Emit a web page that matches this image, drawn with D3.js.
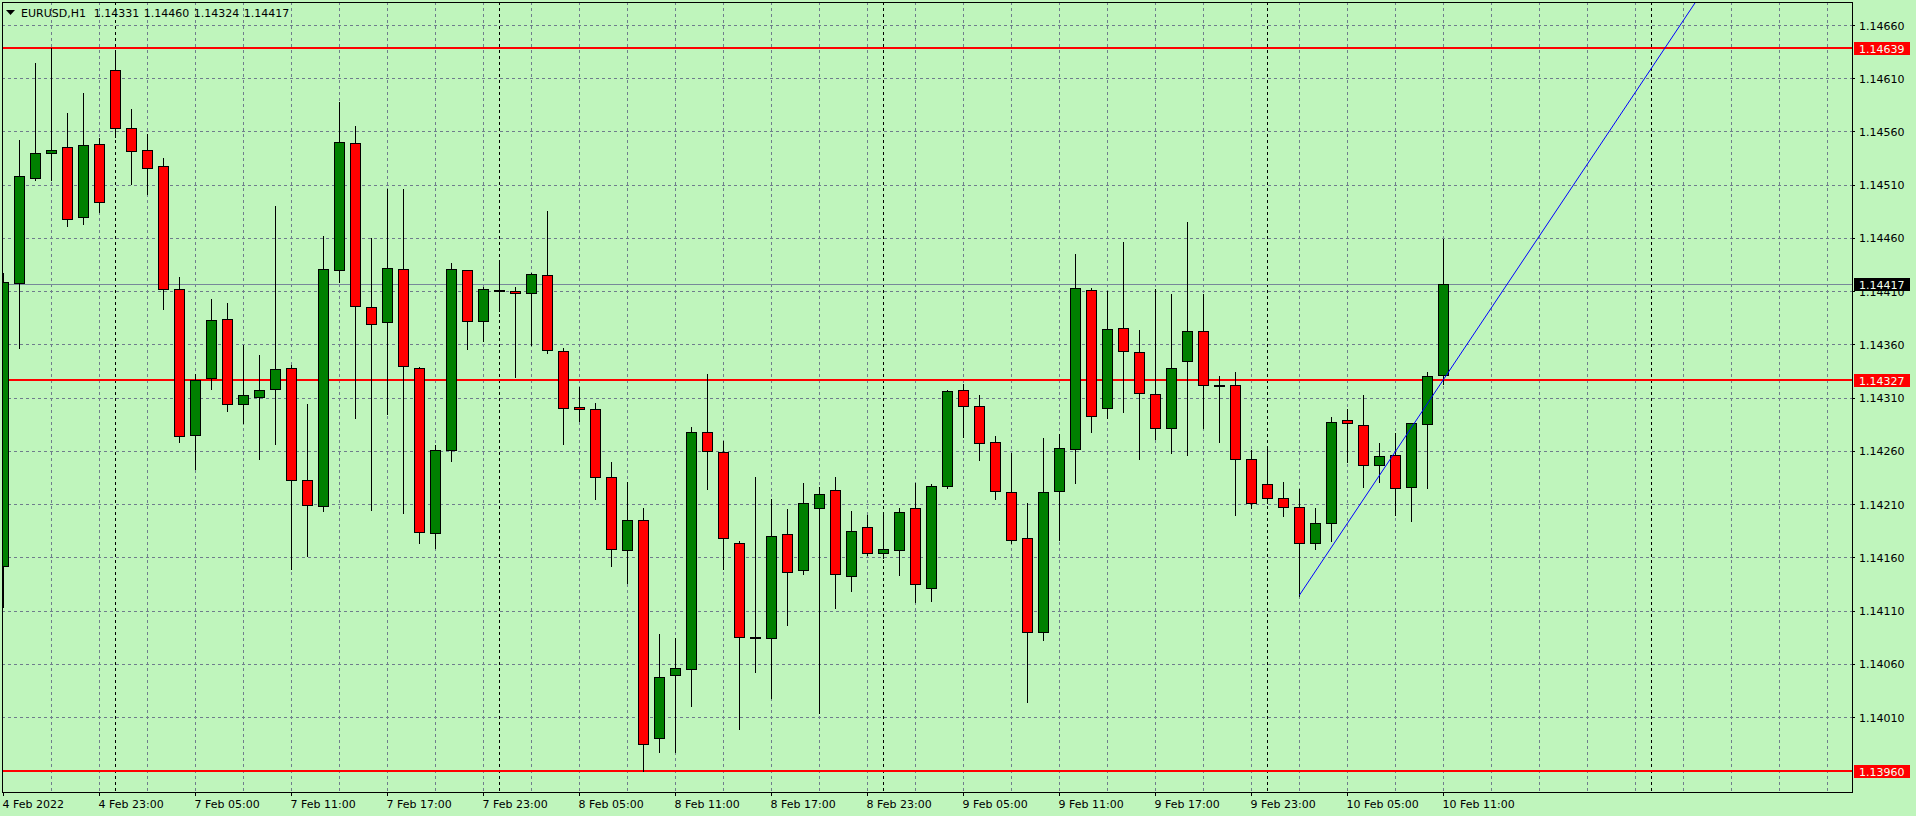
<!DOCTYPE html>
<html><head><meta charset="utf-8">
<script src="https://cdn.jsdelivr.net/npm/d3@7"></script>
<style>html,body{margin:0;padding:0;background:#bff5bc;overflow:hidden;} svg{display:block;}</style>
</head><body>
<svg id="c" width="1916" height="816"></svg>
<script>
const symbol = "EURUSD,H1";
const opens = [1.14152,1.14418,1.14516,1.14540,1.14545,1.14480,1.14548,1.14618,1.14563,1.14543,
1.14528,1.14412,1.14275,1.14328,1.14384,1.14304,1.14311,1.14318,1.14338,1.14233,
1.14208,1.14430,1.14549,1.14395,1.14381,1.14431,1.14338,1.14183,1.14261,1.14430,
1.14382,1.14411,1.14410,1.14408,1.14425,1.14354,1.14301,1.14299,1.14235,1.14167,
1.14195,1.13990,1.14049,1.14055,1.14278,1.14259,1.14173,1.14085,1.14084,1.14182,
1.14148,1.14206,1.14223,1.14142,1.14188,1.14164,1.14167,1.14206,1.14131,1.14227,
1.14317,1.14302,1.14268,1.14221,1.14178,1.14090,1.14222,1.14262,1.14411,1.14300,
1.14375,1.14353,1.14313,1.14281,1.14344,1.14373,1.14322,1.14322,1.14252,1.14229,
1.14216,1.14207,1.14173,1.14192,1.14289,1.14284,1.14247,1.14256,1.14226,1.14285,1.14331];
const highs = [1.14428,1.14553,1.14625,1.14639,1.14578,1.14597,1.14555,1.14636,1.14582,1.14559,
1.14536,1.14424,1.14333,1.14404,1.14400,1.14360,1.14351,1.14491,1.14342,1.14305,
1.14463,1.14589,1.14566,1.14461,1.14507,1.14507,1.14340,1.14266,1.14437,1.14431,
1.14415,1.14440,1.14415,1.14428,1.14486,1.14358,1.14321,1.14306,1.14250,1.14232,
1.14207,1.14089,1.14085,1.14283,1.14333,1.14270,1.14176,1.14236,1.14216,1.14206,
1.14231,1.14227,1.14236,1.14204,1.14201,1.14203,1.14207,1.14231,1.14230,1.14318,
1.14324,1.14313,1.14275,1.14259,1.14212,1.14273,1.14277,1.14446,1.14414,1.14411,
1.14457,1.14374,1.14413,1.14408,1.14476,1.14408,1.14331,1.14335,1.14262,1.14265,
1.14232,1.14225,1.14207,1.14293,1.14300,1.14313,1.14268,1.14278,1.14287,1.14335,1.14460];
const lows = [1.14114,1.14358,1.14515,1.14515,1.14472,1.14474,1.14485,1.14556,1.14512,1.14502,
1.14394,1.14269,1.14244,1.14319,1.14298,1.14287,1.14253,1.14267,1.14150,1.14162,
1.14204,1.14420,1.14292,1.14205,1.14296,1.14203,1.14174,1.14170,1.14251,1.14357,
1.14364,1.14392,1.14330,1.14360,1.14353,1.14267,1.14289,1.14216,1.14153,1.14137,
1.13960,1.13978,1.13978,1.14021,1.14225,1.14150,1.14000,1.14053,1.14029,1.14097,
1.14145,1.14015,1.14113,1.14129,1.14163,1.14160,1.14144,1.14119,1.14120,1.14226,
1.14274,1.14252,1.14216,1.14174,1.14025,1.14083,1.14177,1.14231,1.14279,1.14292,
1.14297,1.14253,1.14272,1.14259,1.14257,1.14282,1.14269,1.14201,1.14207,1.14212,
1.14200,1.14125,1.14169,1.14176,1.14250,1.14227,1.14232,1.14201,1.14195,1.14226,1.14324];
const closes = [1.14419,1.14518,1.14540,1.14543,1.14478,1.14547,1.14494,1.14563,1.14542,1.14526,
1.14412,1.14274,1.14327,1.14383,1.14304,1.14312,1.14317,1.14337,1.14233,1.14209,
1.14431,1.14550,1.14396,1.14379,1.14432,1.14340,1.14184,1.14261,1.14431,1.14382,
1.14412,1.14411,1.14408,1.14426,1.14355,1.14300,1.14299,1.14235,1.14168,1.14195,
1.13985,1.14048,1.14056,1.14278,1.14260,1.14178,1.14085,1.14085,1.14180,1.14146,
1.14211,1.14219,1.14144,1.14185,1.14164,1.14168,1.14203,1.14135,1.14227,1.14316,
1.14302,1.14267,1.14222,1.14176,1.14090,1.14221,1.14263,1.14413,1.14293,1.14374,
1.14354,1.14314,1.14281,1.14338,1.14373,1.14322,1.14322,1.14252,1.14211,1.14216,
1.14207,1.14173,1.14192,1.14287,1.14286,1.14247,1.14255,1.14225,1.14286,1.14330,1.14417];
const xLabelBars = [0,6,12,18,24,30,36,42,48,54,60,66,72,78,84,90];
const xLabels = ["4 Feb 2022","4 Feb 23:00","7 Feb 05:00","7 Feb 11:00","7 Feb 17:00","7 Feb 23:00",
"8 Feb 05:00","8 Feb 11:00","8 Feb 17:00","8 Feb 23:00","9 Feb 05:00","9 Feb 11:00","9 Feb 17:00",
"9 Feb 23:00","10 Feb 05:00","10 Feb 11:00"];
const yTicks = [1.14660,1.14610,1.14560,1.14510,1.14460,1.14410,1.14360,1.14310,1.14260,1.14210,1.14160,1.14110,1.14060,1.14010];
const hLines = [1.14639,1.14327,1.13960];
const currentPrice = 1.14417;
const separatorBars = [7,31,55,79,103];
const trendBars = [81,91];
const trendPrices = [1.14125,1.14350];

const svg = d3.select("#c");
const L = 2, T = 2, R = 1852, B = 792;
const X = d3.scaleLinear().domain([0,1]).range([3.5,19.5]);
const Y = d3.scaleLinear().domain([1.14010,1.14660]).range([717.5,25.5]);
const py = v => Math.floor(Y(v)) + 0.5;
const font = "'DejaVu Sans', Tahoma, sans-serif";
const gridColor = "#6f7d8c";

svg.append("rect").attr("width",1916).attr("height",816).attr("fill","#bff5bc");
svg.append("defs").append("clipPath").attr("id","plot")
  .append("rect").attr("x",L+1).attr("y",T+1).attr("width",R-L-1).attr("height",B-T-1);
const plot = svg.append("g").attr("clip-path","url(#plot)").attr("shape-rendering","crispEdges");

// horizontal grid
plot.selectAll("line.hg").data(yTicks).join("line")
  .attr("x1",L).attr("x2",R).attr("y1",py).attr("y2",py)
  .attr("stroke",gridColor).attr("stroke-dasharray","3,3");
// vertical grid
const maxBar = Math.floor(X.invert(R));
plot.selectAll("line.vg").data(d3.range(3, maxBar+1, 3)).join("line")
  .attr("x1",d=>X(d)).attr("x2",d=>X(d)).attr("y1",T).attr("y2",B)
  .attr("stroke",gridColor).attr("stroke-dasharray","3,3");
// period separators
plot.selectAll("line.sep").data(separatorBars).join("line")
  .attr("x1",d=>X(d)).attr("x2",d=>X(d)).attr("y1",T).attr("y2",B)
  .attr("stroke","#000").attr("stroke-dasharray","3,3");
// current price line
plot.append("line").attr("x1",L).attr("x2",R).attr("y1",py(currentPrice)).attr("y2",py(currentPrice))
  .attr("stroke","#778899");
// red horizontal lines
plot.selectAll("line.hl").data(hLines).join("line")
  .attr("x1",L).attr("x2",R).attr("y1",d=>Math.round(Y(d))).attr("y2",d=>Math.round(Y(d)))
  .attr("stroke","#ff0000").attr("stroke-width",2);

// candles
const bars = opens.map((o,i)=>({i,o,h:highs[i],l:lows[i],c:closes[i]}));
const g = plot.append("g");
g.selectAll("line.wick").data(bars).join("line")
  .attr("x1",d=>X(d.i)).attr("x2",d=>X(d.i)).attr("y1",d=>py(d.h)).attr("y2",d=>py(d.l)+1)
  .attr("stroke","#000");
g.selectAll("rect.body").data(bars).join("rect")
  .attr("x",d=>X(d.i)-5).attr("width",10)
  .attr("y",d=>py(Math.max(d.o,d.c)))
  .attr("height",d=>Math.max(1, py(Math.min(d.o,d.c)) - py(Math.max(d.o,d.c))))
  .attr("fill",d=>d.c>d.o?"#008000":(d.c<d.o?"#ff0000":"#000"))
  .attr("stroke","#000");

// trend line (ray)
const trend = d3.scaleLinear().domain(trendBars).range(trendPrices);
const tEnd = trendBars[0] + 40;
svg.append("g").attr("clip-path","url(#plot)").append("line")
  .attr("x1",X(trendBars[0])).attr("y1",Y(trend(trendBars[0])))
  .attr("x2",X(tEnd)).attr("y2",Y(trend(tEnd)))
  .attr("stroke","#0000ff").attr("stroke-width",1);

// frame
svg.append("rect").attr("x",L+0.5).attr("y",T+0.5).attr("width",R-L).attr("height",B-T)
  .attr("fill","none").attr("stroke","#000").attr("shape-rendering","crispEdges");

// right axis
const ax = svg.append("g").attr("font-family",font).attr("font-size","11px");
ax.selectAll("line.t").data(yTicks).join("line")
  .attr("x1",R).attr("x2",R+3).attr("y1",py).attr("y2",py).attr("stroke","#000")
  .attr("shape-rendering","crispEdges");
ax.selectAll("text.t").data(yTicks).join("text")
  .attr("x",R+7).attr("y",d=>Y(d)+4).attr("fill","#000").text(d=>d.toFixed(5));

// price labels
const tags = hLines.map(v=>({v,bg:"#ff0000"})).concat([{v:currentPrice,bg:"#000"}]);
const tg = ax.selectAll("g.tag").data(tags).join("g");
tg.append("rect").attr("x",R+2).attr("y",d=>Math.round(Y(d.v))-6).attr("width",56).attr("height",13)
  .attr("fill",d=>d.bg).attr("shape-rendering","crispEdges");
tg.append("text").attr("x",R+7).attr("y",d=>Math.round(Y(d.v))+4.5).attr("fill","#f4fff0").text(d=>d.v.toFixed(5));

// bottom axis
const bx = svg.append("g").attr("font-family",font).attr("font-size","11px");
bx.selectAll("line").data(xLabelBars).join("line")
  .attr("x1",d=>X(d)).attr("x2",d=>X(d)).attr("y1",B).attr("y2",B+4).attr("stroke","#000")
  .attr("shape-rendering","crispEdges");
bx.selectAll("text").data(xLabelBars).join("text")
  .attr("x",d=>X(d)-1).attr("y",808).attr("fill","#000").text((d,i)=>xLabels[i]);

// header
const hd = svg.append("g").attr("font-family",font).attr("font-size","11px").attr("fill","#000");
hd.append("path").attr("d","M6,10 L15,10 L10.5,15 Z").attr("fill","#000");
hd.append("text").attr("x",21).attr("y",17).text(symbol);
const last = bars[bars.length-1];
[last.o,last.h,last.l,last.c].forEach((v,k)=>{
  hd.append("text").attr("x",93.7+50*k).attr("y",17).text(v.toFixed(5));
});
</script>
</body></html>
